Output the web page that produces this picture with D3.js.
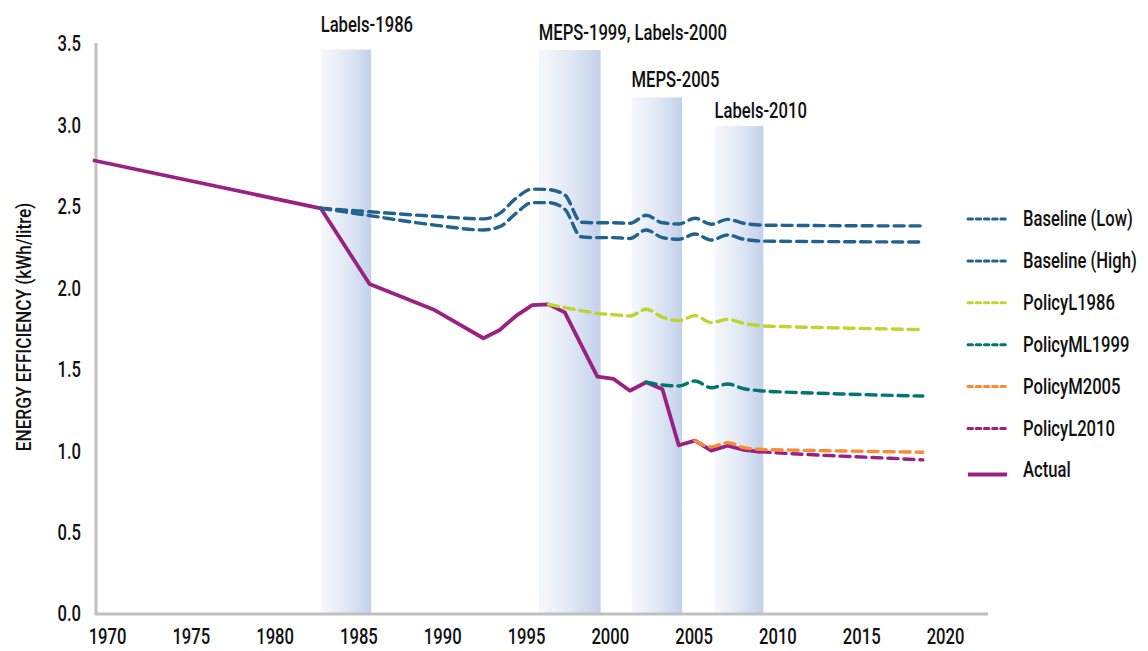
<!DOCTYPE html>
<html>
<head>
<meta charset="utf-8">
<script src="https://cdn.jsdelivr.net/npm/d3@7"></script>
<style>
  body { margin: 0; background: #fff; }
  text { font-family: Roboto, "Liberation Sans", Arial, sans-serif; font-weight: 500; fill: #111; }
</style>
</head>
<body>
<div id="chart"></div>
<script>
// data
var actualYears = [1969, 1983, 1986, 1990, 1993, 1994, 1995, 1996, 1997, 1998, 1999, 2000, 2001, 2002, 2003, 2004, 2005, 2006, 2007, 2008, 2009, 2010];
var actualVals  = [2.78, 2.485, 2.02, 1.86, 1.687, 1.738, 1.824, 1.89, 1.895, 1.846, 1.648, 1.451, 1.437, 1.365, 1.417, 1.374, 1.03, 1.058, 0.997, 1.027, 1.001, 0.99];

var baseYears   = [1983, 1986, 1990, 1993, 1994, 1995, 1996, 1997, 1998, 1999, 2000, 2001, 2002, 2003, 2004, 2005, 2006, 2007, 2008, 2009, 2010, 2012, 2015, 2020];
var baseLowVals  = [2.485, 2.464, 2.436, 2.42, 2.454, 2.546, 2.603, 2.60, 2.567, 2.40, 2.396, 2.396, 2.393, 2.442, 2.396, 2.389, 2.424, 2.387, 2.417, 2.393, 2.382, 2.38, 2.378, 2.377];
var baseHighVals = [2.485, 2.44, 2.382, 2.352, 2.372, 2.454, 2.52, 2.52, 2.479, 2.31, 2.305, 2.305, 2.30, 2.352, 2.305, 2.295, 2.327, 2.29, 2.321, 2.295, 2.284, 2.282, 2.28, 2.278];

var l1986Years = [1997, 1998, 1999, 2000, 2001, 2002, 2003, 2004, 2005, 2006, 2007, 2008, 2009, 2010, 2012, 2015, 2020];
var l1986Vals  = [1.895, 1.875, 1.857, 1.84, 1.832, 1.824, 1.865, 1.816, 1.795, 1.826, 1.783, 1.803, 1.779, 1.764, 1.757, 1.75, 1.74];

var ml1999Years = [2003, 2004, 2005, 2006, 2007, 2008, 2009, 2010, 2012, 2015, 2020];
var ml1999Vals  = [1.417, 1.40, 1.394, 1.425, 1.383, 1.406, 1.377, 1.365, 1.355, 1.345, 1.332];

var m2005Years = [2006, 2007, 2008, 2009, 2010, 2012, 2015, 2020];
var m2005Vals  = [1.058, 1.02, 1.046, 1.015, 1.005, 1.0, 0.995, 0.987];

var l2010Years = [2010, 2012, 2015, 2018, 2020];
var l2010Vals  = [0.99, 0.978, 0.963, 0.95, 0.94];

// policy bands: start, end, top value, label
var bandStart = [1983, 1996.4, 2002.1, 2007.2];
var bandEnd   = [1986.1, 2000.2, 2005.2, 2010.2];
var bandTop   = [3.46, 3.457, 3.166, 2.99];
var bandLabelAt = [3.57, 3.52, 3.23, 3.04];
var bandLabels = ["Labels-1986", "MEPS-1999, Labels-2000", "MEPS-2005", "Labels-2010"];

var yTicks = [0, 0.5, 1.0, 1.5, 2.0, 2.5, 3.0, 3.5];
var xTicks = [1970, 1975, 1980, 1985, 1990, 1995, 2000, 2005, 2010, 2015, 2020];

var seriesNames = ["Baseline (Low)", "Baseline (High)", "PolicyL1986", "PolicyML1999", "PolicyM2005", "PolicyL2010", "Actual"];
var seriesColors = ["#22628f", "#22628f", "#bed431", "#007571", "#f68d35", "#9a2182", "#9a2182"];

var width = 1148, height = 651;
var narrow = "scale(0.755,1)"; // the original uses a condensed face

var svg = d3.select("#chart")
  .append("svg")
    .attr("width", width)
    .attr("height", height);

// scales
var x = d3.scaleLinear().domain([1983, 2006]).range([320.7, 695]);
var xLab = d3.scaleLinear().domain([1970, 2020]).range([107, 945]);
var y = d3.scaleLinear().domain([0, 3.5]).range([613, 43]);

// gradient for bands
var grad = svg.append("defs").append("linearGradient")
  .attr("id", "bandGrad")
  .attr("x1", "0%").attr("x2", "100%").attr("y1", "0%").attr("y2", "0%");
grad.append("stop").attr("offset", "0%").attr("stop-color", "#f6f8fc");
grad.append("stop").attr("offset", "50%").attr("stop-color", "#e2e9f5");
grad.append("stop").attr("offset", "100%").attr("stop-color", "#c2d1ea");

var bands = d3.range(bandStart.length);
svg.append("g").selectAll("rect")
  .data(bands)
  .enter()
  .append("rect")
    .attr("x", function(i) { return x(bandStart[i]); })
    .attr("width", function(i) { return x(bandEnd[i]) - x(bandStart[i]); })
    .attr("y", function(i) { return y(bandTop[i]); })
    .attr("height", function(i) { return y(0) - y(bandTop[i]); })
    .style("fill", "url(#bandGrad)");

svg.append("g").selectAll("text")
  .data(bands)
  .enter()
  .append("text")
    .attr("transform", function(i) { return "translate(" + x(bandStart[i]) + "," + y(bandLabelAt[i]) + ") " + narrow; })
    .style("font-size", "22px")
    .text(function(i) { return bandLabels[i]; });

// axes lines
svg.append("line")
  .attr("x1", 96).attr("x2", 96).attr("y1", y(3.5)).attr("y2", y(0) + 2)
  .style("stroke", "#c0c0c0").style("stroke-width", 3);
svg.append("line")
  .attr("x1", 95).attr("x2", 988).attr("y1", y(0) + 1).attr("y2", y(0) + 1)
  .style("stroke", "#c0c0c0").style("stroke-width", 3);

// Y axis labels
var yAxis = d3.axisLeft(y).tickValues(yTicks).tickFormat(d3.format(".1f")).tickSize(0).tickPadding(0);
var gy = svg.append("g").attr("transform", "translate(81,0)").call(yAxis);
gy.attr("font-family", null);
gy.select(".domain").remove();
gy.selectAll("text")
  .attr("x", 0)
  .attr("transform", narrow)
  .style("font-size", "22px")
  .attr("dy", "0.36em").style("fill", "#111");

// X axis labels (the label row sits on its own spacing in the original)
var xAxis = d3.axisBottom(xLab).tickValues(xTicks).tickFormat(d3.format("d")).tickSize(0).tickPadding(0);
var gx = svg.append("g").attr("transform", "translate(0,628)").call(xAxis);
gx.attr("font-family", null);
gx.select(".domain").remove();
gx.selectAll("text")
  .attr("transform", narrow)
  .style("font-size", "22px")
  .attr("dy", "0.71em").style("fill", "#111");

// y title
svg.append("text")
  .attr("text-anchor", "middle")
  .attr("transform", "translate(31," + 327 + ") rotate(-90) scale(0.82,1)")
  .style("font-size", "21px")
  .text("ENERGY EFFICIENCY (kWh/litre)");

// lines
var smooth = d3.line()
  .x(function(d) { return x(d[0]); })
  .y(function(d) { return y(d[1]); })
  .curve(d3.curveMonotoneX);
var straight = d3.line()
  .x(function(d) { return x(d[0]); })
  .y(function(d) { return y(d[1]); });

function pairs(years, vals) {
  return years.map(function(yr, i) { return [yr, vals[i]]; });
}

svg.append("path")
  .datum(pairs(actualYears, actualVals))
  .attr("d", straight)
  .style("fill", "none")
  .style("stroke", seriesColors[6])
  .style("stroke-width", 3.8)
  .style("stroke-linejoin", "round");

var dashed = [
  [pairs(baseYears, baseLowVals), seriesColors[0]],
  [pairs(baseYears, baseHighVals), seriesColors[1]],
  [pairs(l1986Years, l1986Vals), seriesColors[2]],
  [pairs(ml1999Years, ml1999Vals), seriesColors[3]],
  [pairs(l2010Years, l2010Vals), seriesColors[5]],
  [pairs(m2005Years, m2005Vals), seriesColors[4]]
];

svg.append("g").selectAll("path")
  .data(dashed)
  .enter()
  .append("path")
    .attr("d", function(d) { return smooth(d[0]); })
    .style("fill", "none")
    .style("stroke", function(d) { return d[1]; })
    .style("stroke-width", 3.4)
    .style("stroke-dasharray", "10,6")
    .style("stroke-linecap", "round");

// legend
var legend = svg.append("g").attr("transform", "translate(967,219)");
var rows = legend.selectAll("g")
  .data(seriesNames)
  .enter()
  .append("g")
    .attr("transform", function(d, i) { return "translate(0," + (i * 41.9) + ")"; });

rows.append("line")
  .attr("x1", 1).attr("x2", 40)
  .attr("y1", function(d, i) { return i == 6 ? 4 : 0; })
  .attr("y2", function(d, i) { return i == 6 ? 4 : 0; })
  .style("stroke", function(d, i) { return seriesColors[i]; })
  .style("stroke-width", function(d, i) { return i == 6 ? 4 : 3; })
  .style("stroke-dasharray", function(d, i) { return i == 6 ? null : "4.5,3.7"; })
  .style("stroke-linecap", function(d, i) { return i == 6 ? "butt" : "round"; });

rows.append("text")
  .attr("transform", "translate(56,7) " + narrow)
  .style("font-size", "22px")
  .text(function(d) { return d; });
</script>
</body>
</html>
